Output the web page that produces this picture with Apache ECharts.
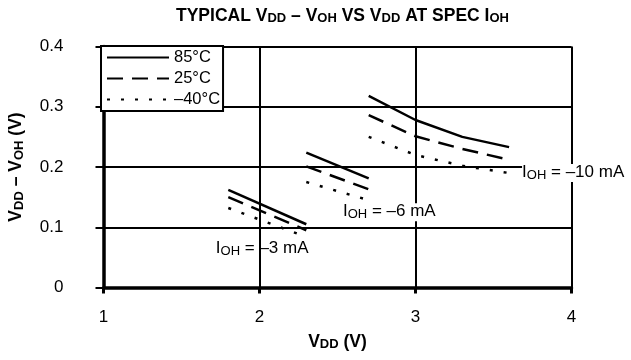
<!DOCTYPE html>
<html><head><meta charset="utf-8">
<script src="https://cdn.jsdelivr.net/npm/echarts@6/dist/echarts.min.js"></script>
<style>html,body{margin:0;padding:0;background:#fff}#c{width:631px;height:360px}</style>
</head><body><div id="c"></div>
<script>
// ---- data ----
const xTicks = [1, 2, 3, 4];
const yTicks = [0, 0.1, 0.2, 0.3, 0.4];
const temps = ['85°C', '25°C', '–40°C'];
// I_OH = -3 mA
const vdd3 = [1.8, 2.3];
const t85_3 = [0.162, 0.105];
const t25_3 = [0.150, 0.095];
const tm40_3 = [0.132, 0.084];
// I_OH = -6 mA
const vdd6 = [2.3, 2.7];
const t85_6 = [0.224, 0.181];
const t25_6 = [0.201, 0.163];
const tm40_6 = [0.175, 0.145];
// I_OH = -10 mA
const vdd10 = [2.7, 3.0, 3.3, 3.6];
const t85_10 = [0.318, 0.278, 0.250, 0.233];
const t25_10 = [0.286, 0.251, 0.230, 0.212];
const tm40_10 = [0.250, 0.220, 0.202, 0.190];
// current labels: anchor [VDD, V]
const labelText = ['–3 mA', '–6 mA', '–10 mA'];
const labelX = [1.72, 2.535, 3.683];
const labelY = [0.064, 0.125, 0.19];

const FONT = '"Liberation Sans", Arial, sans-serif';
const styles = [
  { type: 'solid', width: 2.5 },
  { type: [16, 9], width: 2.5 },
  { type: [3, 11], width: 2.5 }
];
function pairs(xs, ys) { return xs.map((x, i) => [x, ys[i]]); }
const groups = [
  [vdd3, [t85_3, t25_3, tm40_3]],
  [vdd6, [t85_6, t25_6, tm40_6]],
  [vdd10, [t85_10, t25_10, tm40_10]]
];
const series = [];
groups.forEach(([xs, sets]) => {
  sets.forEach((ys, k) => {
    series.push({
      type: 'line', name: temps[k], data: pairs(xs, ys),
      symbol: 'none', silent: true, z: 3,
      lineStyle: { color: '#000', width: styles[k].width, type: styles[k].type, cap: 'butt' },
      itemStyle: { color: '#000' }
    });
  });
});
series.push({
  type: 'scatter', symbolSize: 0, silent: true, z: 5,
  itemStyle: { opacity: 1, color: '#000' },
  data: labelText.map((t, i) => ({
    value: [labelX[i], labelY[i]],
    label: { backgroundColor: i === 0 ? 'transparent' : '#fff' }
  })),
  label: {
    show: true, position: 'right', distance: 0, color: '#000', opacity: 1,
    formatter: p => '{m|I}{s|OH}{m| = ' + labelText[p.dataIndex] + '}',
    rich: {
      m: { fontFamily: FONT, fontSize: 17, color: '#000', verticalAlign: 'top', lineHeight: 18 },
      s: { fontFamily: FONT, fontSize: 13, color: '#000', verticalAlign: 'bottom', lineHeight: 14, padding: [8, 0, 0, 0] }
    }
  }
});

const chart = echarts.init(document.getElementById('c'), null, { renderer: 'canvas' });
const rb = { fontFamily: FONT, fontWeight: 'bold', fontSize: 17.5, color: '#000', verticalAlign: 'top', lineHeight: 18 };
const rs = { fontFamily: FONT, fontWeight: 'bold', fontSize: 13, color: '#000', verticalAlign: 'bottom', lineHeight: 14, padding: [8, 0, 0, 0] };
chart.setOption({
  animation: false,
  backgroundColor: '#fff',
  title: {
    text: '{b|TYPICAL V}{s|DD}{b| – V}{s|OH}{b| VS V}{s|DD}{b| AT SPEC I}{s|OH}',
    left: 171, top: 2,
    textStyle: { rich: { b: rb, s: rs } }
  },
  legend: {
    data: temps, orient: 'vertical', left: 101, top: 46,
    backgroundColor: '#fff', borderColor: '#000', borderWidth: 2, borderRadius: 0,
    padding: [3, 3, 3, 5], itemGap: 4, itemWidth: 62, itemHeight: 16,
    itemStyle: { opacity: 0 },
    textStyle: { fontFamily: FONT, fontSize: 16.5, color: '#000' },
    selectedMode: false
  },
  grid: { left: 103.5, right: 59.5, top: 46.5, bottom: 72.5, containLabel: false, outerBoundsMode: 'none' },
  xAxis: {
    type: 'value', min: 1, max: 4, interval: 1,
    name: '{b|V}{s|DD}{b| (V)}', nameLocation: 'middle', nameGap: 43,
    nameTextStyle: { rich: { b: rb, s: rs } },
    axisLine: { lineStyle: { color: '#000', width: 3.5 } },
    axisTick: { show: true, length: 6, lineStyle: { color: '#000', width: 3 } },
    axisLabel: { fontFamily: FONT, fontSize: 17, color: '#000', margin: 21 },
    splitLine: { show: true, lineStyle: { color: '#000', width: 2 } }
  },
  yAxis: {
    type: 'value', min: 0, max: 0.4, interval: 0.1,
    name: '{b|V}{s|DD}{b| – V}{s|OH}{b| (V)}', nameLocation: 'middle', nameGap: 78, nameRotate: 90,
    nameTextStyle: { rich: { b: rb, s: rs } },
    axisLine: { show: true, lineStyle: { color: '#000', width: 3.5 } },
    axisTick: { show: true, length: 8, lineStyle: { color: '#000', width: 2 } },
    axisLabel: { fontFamily: FONT, fontSize: 17, color: '#000', margin: 40, formatter: v => String(+v.toFixed(1)) },
    splitLine: { show: true, lineStyle: { color: '#000', width: 2 } }
  },
  series: series
});
</script></body></html>
